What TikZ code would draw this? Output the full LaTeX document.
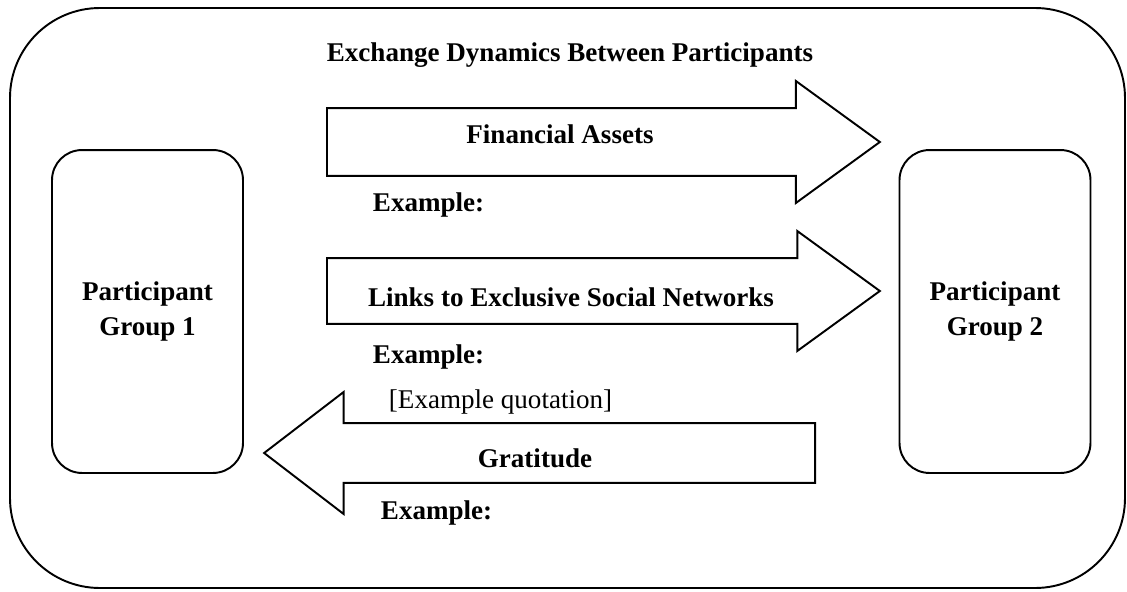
\documentclass[tikz,border=0pt]{standalone}
\usepackage{fontspec}
\setmainfont{Liberation Serif}
\usetikzlibrary{shapes.arrows}

\tikzset{
    txt/.style={inner sep=0pt, font=\fontsize{15.4}{19.9}\selectfont\bfseries},
    quote/.style={inner sep=0pt, font=\fontsize{15.4}{19.9}\selectfont},
    group/.style={draw, rounded corners=0.6cm, minimum width=3.82cm,
        minimum height=6.46cm, align=center, txt},
    flow/.style={draw, single arrow, inner xsep=0pt, inner ysep=0.66cm,
        single arrow head extend=0.54cm, single arrow tip angle=72,
        minimum height=11.06cm, anchor=tail}
}

\begin{document}
\begin{tikzpicture}[x=0.02cm, y=-0.02cm, line width=1.1pt, line join=miter]
    \useasboundingbox (0,0) rectangle (1127,592);
    \draw[rounded corners=1.8cm] (10,8) rectangle (1125,588);

    \node[txt] (title) at (570,55) {Exchange Dynamics Between Participants};

    \node[group] (g1) at (147.5,311.5) {Participant\\Group 1};
    \node[group] (g2) at (995,311.5) {Participant\\Group 2};

    % flows from group 1 to group 2
    \node[flow] (assets) at (326,142) {};
    \node[txt] (assetslbl) at (560,134) {Financial Assets};
    \node[txt, anchor=west] (ex1) at (372,205) {Example:};

    \node[flow, inner ysep=0.64cm] (links) at (326,291) {};
    \node[txt] (linkslbl) at (571,297) {Links to Exclusive Social Networks};
    \node[txt, anchor=west] (ex2) at (372,357) {Example:};
    \node[quote, anchor=west] (quot) at (388,402) {[Example quotation]};

    % flow back
    \node[flow, shape border rotate=180, inner ysep=0.58cm,
        single arrow head extend=0.62cm, single arrow tip angle=75,
        minimum height=11.02cm] (thanks) at (816,453) {};
    \node[txt] (thankslbl) at (535,458) {Gratitude};
    \node[txt, anchor=west] (ex3) at (380,513) {Example:};
\end{tikzpicture}
\end{document}
